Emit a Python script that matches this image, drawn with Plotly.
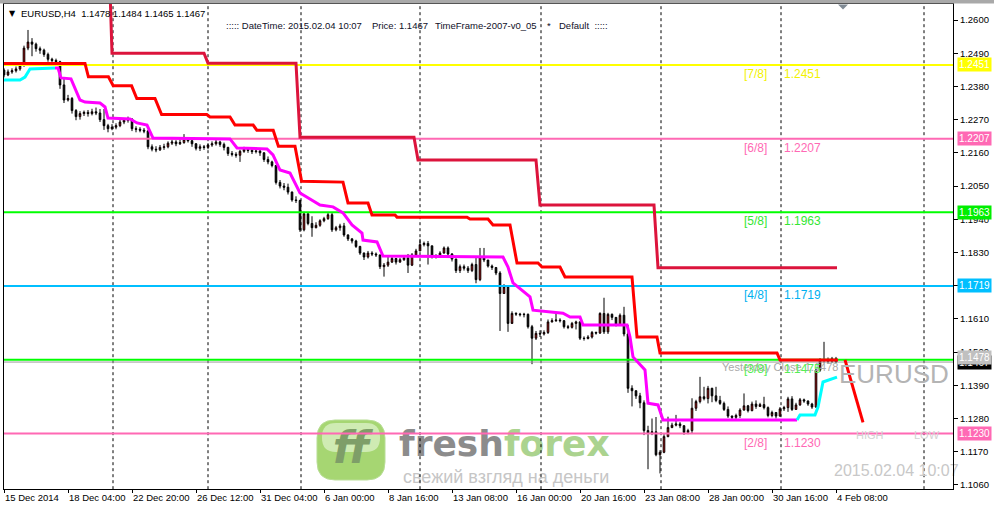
import plotly.graph_objects as go

# ---------------- data (H4 EURUSD) ----------------
FIRST_OPEN = 1.2434
CLOSE = [
    1.2418, 1.2428, 1.2432, 1.2438, 1.2450, 1.2507, 1.2527, 1.2520, 1.2505, 1.2500,
    1.2486, 1.2470, 1.2466, 1.2462, 1.2385, 1.2335, 1.2340, 1.2300, 1.2280, 1.2290,
    1.2294, 1.2290, 1.2296, 1.2292, 1.2270, 1.2250, 1.2240, 1.2245, 1.2250, 1.2262,
    1.2268, 1.2272, 1.2240, 1.2238, 1.2235, 1.2232, 1.2180, 1.2172, 1.2170, 1.2178,
    1.2180, 1.2192, 1.2196, 1.2190, 1.2194, 1.2205, 1.2200, 1.2190, 1.2175, 1.2180,
    1.2178, 1.2186, 1.2190, 1.2196, 1.2188, 1.2178, 1.2158, 1.2155, 1.2152, 1.2165,
    1.2172, 1.2168, 1.2164, 1.2166, 1.2160, 1.2138, 1.2130, 1.2118, 1.2062, 1.2050,
    1.2046, 1.2030, 1.2004, 1.2002, 1.1905, 1.1958, 1.1926, 1.1912, 1.1920, 1.1935,
    1.1942, 1.1955, 1.1905, 1.1912, 1.1918, 1.1888, 1.1875, 1.1868, 1.1850, 1.1828,
    1.1815, 1.1828, 1.1825, 1.1822, 1.1783, 1.1788, 1.1798, 1.1810, 1.1798, 1.1806,
    1.1812, 1.1788, 1.1822, 1.1835, 1.1856, 1.1860, 1.1852, 1.1815, 1.1818, 1.1828,
    1.1845, 1.1825, 1.1808, 1.1770, 1.1783, 1.1778, 1.1770, 1.1790, 1.1740, 1.1815,
    1.1805, 1.1785, 1.1780, 1.1762, 1.1694, 1.1716, 1.1595, 1.1628, 1.1626, 1.1624,
    1.1625, 1.1584, 1.1546, 1.1562, 1.1560, 1.1565, 1.1600, 1.1604, 1.1606, 1.1604,
    1.1584, 1.1582, 1.1595, 1.1600, 1.1546, 1.1545, 1.1550, 1.1565, 1.1563, 1.1628,
    1.1567, 1.1625, 1.1615, 1.1590, 1.1622, 1.1560, 1.1380, 1.1372, 1.1355, 1.1332,
    1.1240, 1.1232, 1.1236, 1.1160, 1.1168, 1.1220, 1.1250, 1.1258, 1.1262, 1.1256,
    1.1234, 1.1240, 1.1314, 1.1336, 1.1352, 1.1346, 1.1380, 1.1355, 1.1340, 1.1330,
    1.1310, 1.1288, 1.1284, 1.1290, 1.1308, 1.1322, 1.1306, 1.1328, 1.1320, 1.1326,
    1.1316, 1.1290, 1.1300, 1.1288, 1.1312, 1.1316, 1.1345, 1.1310, 1.1325, 1.1342,
    1.1338, 1.1328, 1.1318, 1.1440, 1.1472, 1.1475, 1.1470, 1.1478, 1.1467,
]
HIGH = [
    1.2440, 1.2436, 1.2440, 1.2446, 1.2458, 1.2515, 1.2567, 1.2540, 1.2525, 1.2512,
    1.2505, 1.2492, 1.2475, 1.2472, 1.2465, 1.2405, 1.2352, 1.2345, 1.2305, 1.2298,
    1.2300, 1.2302, 1.2306, 1.2310, 1.2305, 1.2305, 1.2256, 1.2255, 1.2258, 1.2270,
    1.2275, 1.2280, 1.2274, 1.2248, 1.2245, 1.2242, 1.2236, 1.2188, 1.2182, 1.2186,
    1.2190, 1.2198, 1.2204, 1.2202, 1.2206, 1.2222, 1.2212, 1.2206, 1.2192, 1.2188,
    1.2186, 1.2192, 1.2198, 1.2206, 1.2200, 1.2194, 1.2180, 1.2166, 1.2162, 1.2170,
    1.2180, 1.2178, 1.2174, 1.2178, 1.2172, 1.2162, 1.2148, 1.2134, 1.2120, 1.2070,
    1.2060, 1.2058, 1.2032, 1.2016, 1.2005, 1.1965, 1.1960, 1.1950, 1.1930, 1.1940,
    1.1948, 1.1962, 1.1962, 1.1918, 1.1925, 1.1928, 1.1890, 1.1878, 1.1872, 1.1852,
    1.1830, 1.1835, 1.1834, 1.1830, 1.1818, 1.1795, 1.1815, 1.1816, 1.1812, 1.1812,
    1.1818, 1.1825, 1.1828, 1.1842, 1.1875, 1.1866, 1.1868, 1.1852, 1.1824, 1.1834,
    1.1850, 1.1850, 1.1828, 1.1810, 1.1790, 1.1790, 1.1785, 1.1796, 1.1818, 1.1845,
    1.1845, 1.1800, 1.1790, 1.1782, 1.1768, 1.1725, 1.1720, 1.1635, 1.1632, 1.1630,
    1.1630, 1.1628, 1.1590, 1.1570, 1.1572, 1.1572, 1.1608, 1.1612, 1.1630, 1.1612,
    1.1606, 1.1590, 1.1600, 1.1604, 1.1602, 1.1552, 1.1556, 1.1570, 1.1568, 1.1632,
    1.1680, 1.1630, 1.1628, 1.1615, 1.1628, 1.1650, 1.1590, 1.1390, 1.1370, 1.1365,
    1.1340, 1.1256, 1.1280, 1.1285, 1.1175, 1.1228, 1.1286, 1.1266, 1.1292, 1.1268,
    1.1258, 1.1246, 1.1347, 1.1342, 1.1418, 1.1385, 1.1388, 1.1382, 1.1385, 1.1355,
    1.1336, 1.1320, 1.1290, 1.1296, 1.1314, 1.1363, 1.1325, 1.1336, 1.1340, 1.1332,
    1.1352, 1.1320, 1.1306, 1.1300, 1.1318, 1.1322, 1.1352, 1.1354, 1.1332, 1.1348,
    1.1346, 1.1340, 1.1332, 1.1445, 1.1480, 1.1534, 1.1482, 1.1484, 1.1484,
]
LOW = [
    1.2410, 1.2414, 1.2422, 1.2426, 1.2432, 1.2445, 1.2500, 1.2480, 1.2495, 1.2488,
    1.2478, 1.2462, 1.2455, 1.2452, 1.2372, 1.2325, 1.2330, 1.2290, 1.2268, 1.2270,
    1.2282, 1.2280, 1.2284, 1.2285, 1.2262, 1.2236, 1.2228, 1.2235, 1.2238, 1.2245,
    1.2255, 1.2260, 1.2232, 1.2228, 1.2228, 1.2225, 1.2172, 1.2165, 1.2162, 1.2166,
    1.2170, 1.2175, 1.2186, 1.2182, 1.2186, 1.2190, 1.2194, 1.2180, 1.2168, 1.2166,
    1.2170, 1.2172, 1.2180, 1.2184, 1.2180, 1.2168, 1.2150, 1.2148, 1.2144, 1.2130,
    1.2160, 1.2160, 1.2156, 1.2158, 1.2150, 1.2130, 1.2122, 1.2112, 1.2055, 1.2042,
    1.2036, 1.2022, 1.1998, 1.1994, 1.1898, 1.1900, 1.1920, 1.1882, 1.1910, 1.1915,
    1.1930, 1.1938, 1.1898, 1.1900, 1.1902, 1.1882, 1.1868, 1.1860, 1.1845, 1.1822,
    1.1805, 1.1810, 1.1818, 1.1815, 1.1775, 1.1750, 1.1782, 1.1795, 1.1790, 1.1796,
    1.1802, 1.1762, 1.1785, 1.1820, 1.1835, 1.1850, 1.1790, 1.1810, 1.1810, 1.1815,
    1.1826, 1.1820, 1.1800, 1.1762, 1.1762, 1.1770, 1.1762, 1.1765, 1.1728, 1.1735,
    1.1798, 1.1780, 1.1772, 1.1755, 1.1570, 1.1694, 1.1567, 1.1600, 1.1620, 1.1618,
    1.1615, 1.1578, 1.1460, 1.1540, 1.1550, 1.1555, 1.1560, 1.1598, 1.1600, 1.1598,
    1.1578, 1.1576, 1.1578, 1.1575, 1.1540, 1.1538, 1.1542, 1.1545, 1.1558, 1.1560,
    1.1560, 1.1560, 1.1606, 1.1585, 1.1590, 1.1552, 1.1365, 1.1320, 1.1345, 1.1314,
    1.1225, 1.1112, 1.1225, 1.1155, 1.1098, 1.1165, 1.1218, 1.1248, 1.1254, 1.1248,
    1.1226, 1.1228, 1.1232, 1.1305, 1.1330, 1.1340, 1.1330, 1.1334, 1.1334, 1.1325,
    1.1305, 1.1282, 1.1278, 1.1275, 1.1282, 1.1306, 1.1300, 1.1304, 1.1312, 1.1318,
    1.1310, 1.1284, 1.1284, 1.1280, 1.1286, 1.1305, 1.1302, 1.1305, 1.1310, 1.1322,
    1.1332, 1.1322, 1.1312, 1.1315, 1.1435, 1.1465, 1.1462, 1.1464, 1.1465,
]
assert len(CLOSE) == len(HIGH) == len(LOW)
OPEN = [FIRST_OPEN] + CLOSE[:-1]
BARS = list(range(len(CLOSE)))

TICK_LABELS = ["15 Dec 2014", "18 Dec 04:00", "22 Dec 20:00", "26 Dec 12:00", "31 Dec 04:00",
               "6 Jan 00:00", "8 Jan 16:00", "13 Jan 08:00", "16 Jan 00:00", "20 Jan 16:00",
               "23 Jan 08:00", "28 Jan 00:00", "30 Jan 16:00", "4 Feb 08:00"]
TICK_BARS = [0, 16, 32, 48, 64, 80, 96, 112, 128, 144, 160, 176, 192, 208]
SEPARATORS = [27.25, 51, 74.25, 104, 134.25, 164.25, 194.25, 230]

PRICE_TICKS = [1.2600, 1.2490, 1.2380, 1.2270, 1.2160, 1.2050, 1.1940, 1.1830,
               1.1720, 1.1610, 1.1500, 1.1390, 1.1280, 1.1170, 1.1060]

MURREY_LEVELS = [1.2451, 1.2207, 1.1963, 1.1719, 1.1475, 1.1230]
MURREY_NAMES = ["[7/8]", "[6/8]", "[5/8]", "[4/8]", "[3/8]", "[2/8]"]
MURREY_COLORS = ["#FFFF00", "#FF69B4", "#00FF00", "#00BFFF", "#00FF00", "#FF69B4"]
MURREY_TEXT = ["#F2F200", "#FF69B4", "#33E633", "#00B0F0", "#55EE55", "#FF69B4"]
AXIS_BOX_LEVELS = [1.2451, 1.2207, 1.1963, 1.1719, 1.1230]
AXIS_BOX_COLORS = ["#FFFF00", "#FF69B4", "#00EE00", "#00BFFF", "#FF69B4"]
YESTERDAY_CLOSE = 1.1478
BID = CLOSE[-1]

RED_X = [-0.5, 20.25, 21.1, 26.1, 27.3, 31.9, 33.2, 37.75, 39.4, 50.7, 51.5, 56.5, 57.75, 62.3,
         63.2, 67.3, 68.6, 72.75, 74.4, 84.75, 86, 91, 92, 97.75, 98.25, 115.75, 116.5, 121,
         122.25, 126.5, 128.25, 133.5, 134.5, 139, 140.25, 157, 158.25, 163.25, 164, 193.25,
         194, 208.5]
RED_Y = [1.2456, 1.2456, 1.2412, 1.2412, 1.2382, 1.2382, 1.2340, 1.2340, 1.2287, 1.2287,
         1.2279, 1.2279, 1.2252, 1.2252, 1.2235, 1.2235, 1.2182, 1.2182, 1.2066, 1.2063,
         1.1994, 1.1994, 1.1954, 1.1954, 1.1947, 1.1947, 1.1941, 1.1941, 1.1921, 1.1921,
         1.1795, 1.1795, 1.1782, 1.1782, 1.1749, 1.1749, 1.1550, 1.1550, 1.1497, 1.1497,
         1.1474, 1.1474]
CRIM_X = [26.5, 27, 50, 51, 73, 74, 102.5, 103.5, 133, 134, 162.5, 163.5, 208.25]
CRIM_Y = [1.2700, 1.2490, 1.2490, 1.2457, 1.2457, 1.2212, 1.2212, 1.2136, 1.2136,
          1.1987, 1.1987, 1.1779, 1.1779]
CYAN_A_X = [-0.5, 4, 5.25, 6.5, 12.75]
CYAN_A_Y = [1.2401, 1.2401, 1.2411, 1.2438, 1.2441]
MAG_X = [12.75, 13.5, 14.25, 16.75, 19, 20.25, 24, 25.25, 26, 31.5, 33.25, 35.75, 37.25, 56.5,
         58.25, 65.75, 67.25, 69, 71.5, 74, 79, 82.25, 84.75, 87, 89.5, 89.75, 93.25, 94.75,
         124.75, 126, 127.25, 131.5, 132.25, 139.75, 141.5, 144, 144.75, 155.75, 156.5,
         157.25, 160.25, 161, 163.5, 164.75, 198.25]
MAG_Y = [1.2441, 1.2441, 1.2408, 1.2405, 1.2335, 1.2328, 1.2325, 1.2312, 1.2275, 1.2272,
         1.2259, 1.2252, 1.2209, 1.2206, 1.2176, 1.2173, 1.2153, 1.2103, 1.2093, 1.2027,
         1.1987, 1.1981, 1.1961, 1.1921, 1.1894, 1.1871, 1.1865, 1.1818, 1.1815, 1.1782,
         1.1729, 1.1683, 1.1639, 1.1629, 1.1616, 1.1616, 1.1590, 1.1590, 1.1550, 1.1484,
         1.1441, 1.1331, 1.1325, 1.1275, 1.1275]
CYAN_B_X = [198.25, 199, 202.75, 203.5, 204.75, 206.5, 208.25]
CYAN_B_Y = [1.1275, 1.1292, 1.1292, 1.1318, 1.1401, 1.1408, 1.1417]
ARROW_X = [210.25, 214.75]
ARROW_Y = [1.1474, 1.1267]

# ---------------- geometry helpers ----------------
W, H = 994, 506
L_PX, R_PX, T_PX, B_PX = 4, 953, 4, 489
BAR_PX = 4.0
PX_PER_UNIT = 3019.0
Y_AT_PX0 = 1.266625
X_RANGE = [0, (R_PX - L_PX) / BAR_PX]
Y_RANGE = [Y_AT_PX0 - B_PX / PX_PER_UNIT, Y_AT_PX0 - T_PX / PX_PER_UNIT]


def dx(px):
    return (px - L_PX) / BAR_PX


def dy(py):
    return Y_AT_PX0 - py / PX_PER_UNIT


def paper_x(px):
    return (px - L_PX) / (R_PX - L_PX)


def paper_y(py):
    return (B_PX - py) / (B_PX - T_PX)


def rounded_rect(x0, y0, x1, y1, r):
    def P(x, y):
        return f"{paper_x(x):.5f},{paper_y(y):.5f}"
    return (f"M {P(x0 + r, y0)} L {P(x1 - r, y0)} Q {P(x1, y0)} {P(x1, y0 + r)} "
            f"L {P(x1, y1 - r)} Q {P(x1, y1)} {P(x1 - r, y1)} L {P(x0 + r, y1)} "
            f"Q {P(x0, y1)} {P(x0, y1 - r)} L {P(x0, y0 + r)} Q {P(x0, y0)} {P(x0 + r, y0)} Z")


fig = go.Figure()

# ---------------- watermark (background) ----------------
fig.add_trace(go.Scatter(x=[dx(351)], y=[dy(452)], mode="text", text=["<b><i>ff</i></b>"],
                         textposition="middle center", cliponaxis=False, hoverinfo="skip",
                         textfont=dict(family="DejaVu Sans", size=44, color="#7E9E68")))
fig.add_trace(go.Scatter(x=[dx(399)], y=[dy(447)], mode="text",
                         text=["<b><span style='color:#8C8C8C'>fresh</span>"
                               "<span style='color:#ABD38F'>forex</span></b>"],
                         textposition="middle right", cliponaxis=False, hoverinfo="skip",
                         textfont=dict(family="DejaVu Sans", size=36, color="#8C8C8C")))
fig.add_trace(go.Scatter(x=[dx(403)], y=[dy(478)], mode="text", text=["свежий взгляд на деньги"],
                         textposition="middle right", cliponaxis=False, hoverinfo="skip",
                         textfont=dict(family="Liberation Sans", size=18, color="#C6C6C6")))

# ---------------- period separators ----------------
sx, sy = [], []
for b in SEPARATORS:
    sx += [b, b, None]
    sy += [Y_RANGE[0] - 0.01, Y_RANGE[1] + 0.01, None]
fig.add_trace(go.Scatter(x=sx, y=sy, mode="lines", hoverinfo="skip",
                         line=dict(color="black", width=1, dash="3px,3px")))

# ---------------- candles ----------------
fig.add_trace(go.Candlestick(
    x=BARS, open=OPEN, high=HIGH, low=LOW, close=CLOSE, whiskerwidth=0, hoverinfo="skip",
    increasing=dict(line=dict(color="black", width=1), fillcolor="#FF0000"),
    decreasing=dict(line=dict(color="black", width=1), fillcolor="#000000")))

# ---------------- horizontal lines ----------------
fig.add_trace(go.Scatter(x=[X_RANGE[0] - 5, X_RANGE[1] + 5], y=[BID, BID], mode="lines",
                         hoverinfo="skip", line=dict(color="#9A9A9A", width=1)))
for lv, col in zip(MURREY_LEVELS, MURREY_COLORS):
    fig.add_trace(go.Scatter(x=[X_RANGE[0] - 5, X_RANGE[1] + 5], y=[lv, lv], mode="lines",
                             hoverinfo="skip", line=dict(color=col, width=2)))

# ---------------- indicator lines ----------------
for xs, ys, col in [(CYAN_A_X, CYAN_A_Y, "#00FFFF"), (MAG_X, MAG_Y, "#FF00FF"),
                    (CYAN_B_X, CYAN_B_Y, "#00FFFF"), (RED_X, RED_Y, "#FF0000"),
                    (CRIM_X, CRIM_Y, "#DC143C"), (ARROW_X, ARROW_Y, "#FF0000")]:
    fig.add_trace(go.Scatter(x=xs, y=ys, mode="lines", hoverinfo="skip",
                             line=dict(color=col, width=3)))

# date stamp
fig.add_trace(go.Scatter(x=[dx(834)], y=[dy(472)], mode="text", text=["2015.02.04 10:07"],
                         textposition="middle right", cliponaxis=False, hoverinfo="skip",
                         textfont=dict(family="Liberation Sans", size=16, color="#C8C8C8")))

# ---------------- annotations ----------------
ann = []
FONT = "Liberation Sans"
ann.append(dict(x=paper_x(720), xref="paper", y=YESTERDAY_CLOSE, yref="y", yshift=-8,
                text="Yesterday Close 1.1478", showarrow=False, xanchor="left", yanchor="middle",
                font=dict(family=FONT, size=11, color="#A8A8A8")))
for lv, name, tc in zip(MURREY_LEVELS, MURREY_NAMES, MURREY_TEXT):
    ann.append(dict(x=paper_x(742), xref="paper", y=lv, yref="y", yshift=-9, text=name,
                    showarrow=False, xanchor="left", yanchor="middle",
                    font=dict(family=FONT, size=12, color=tc)))
    ann.append(dict(x=paper_x(782), xref="paper", y=lv, yref="y", yshift=-9, text=f"{lv:.4f}",
                    showarrow=False, xanchor="left", yanchor="middle",
                    font=dict(family=FONT, size=12, color=tc)))
ann.append(dict(x=paper_x(837), xref="paper", y=dy(374), yref="y", text="EURUSD",
                showarrow=False, xanchor="left", yanchor="middle",
                font=dict(family=FONT, size=26, color="#B4B4B4")))
ann.append(dict(x=paper_x(854), xref="paper", y=dy(435), yref="y", text="HIGH",
                showarrow=False, xanchor="left", yanchor="middle",
                font=dict(family=FONT, size=11, color="#D2D2D2")))
ann.append(dict(x=paper_x(912), xref="paper", y=dy(435), yref="y", text="LOW",
                showarrow=False, xanchor="left", yanchor="middle",
                font=dict(family=FONT, size=11, color="#D2D2D2")))

# header
ann.append(dict(x=paper_x(7), xref="paper", y=paper_y(13), yref="paper", text="▼",
                showarrow=False, xanchor="left", yanchor="middle",
                font=dict(family="DejaVu Sans", size=8, color="black")))
ann.append(dict(x=paper_x(19), xref="paper", y=paper_y(13), yref="paper",
                text="EURUSD,H4  1.1478 1.1484 1.1465 1.1467",
                showarrow=False, xanchor="left", yanchor="middle",
                font=dict(family=FONT, size=9.5, color="black")))
for px, txt in [(224, "::::: DateTime: 2015.02.04 10:07"), (370, "Price: 1.1467"),
                (433, "TimeFrame-2007-v0_05"), (545, "*"), (557, "Default  :::::")]:
    ann.append(dict(x=paper_x(px), xref="paper", y=paper_y(26), yref="paper", text=txt,
                    showarrow=False, xanchor="left", yanchor="middle",
                    font=dict(family=FONT, size=9.5, color="#101028")))

# right axis price boxes
BOX_X = paper_x(957)
ann.append(dict(x=BOX_X, xref="paper", y=BID, yref="y", text=f"{BID:.4f}", showarrow=False,
                xanchor="left", yanchor="middle", bgcolor="#000000", borderpad=1,
                font=dict(family=FONT, size=10, color="white")))
ann.append(dict(x=BOX_X, xref="paper", y=YESTERDAY_CLOSE, yref="y", yshift=1,
                text=f"{YESTERDAY_CLOSE:.4f}", showarrow=False,
                xanchor="left", yanchor="middle", bgcolor="#C0C0C0", borderpad=1,
                font=dict(family=FONT, size=10, color="white")))
for lv, col in zip(AXIS_BOX_LEVELS, AXIS_BOX_COLORS):
    ann.append(dict(x=BOX_X, xref="paper", y=lv, yref="y", text=f"{lv:.4f}", showarrow=False,
                    xanchor="left", yanchor="middle", bgcolor=col, borderpad=1,
                    font=dict(family=FONT, size=10, color="white")))

# ---------------- shapes ----------------
shapes = [
    dict(type="rect", xref="paper", yref="paper", x0=paper_x(-5), x1=paper_x(1000),
         y0=paper_y(3.5), y1=paper_y(-2), fillcolor="#A9A9A9", line=dict(width=0), layer="above"),
    dict(type="path", xref="paper", yref="paper", layer="above",
         path=f"M {paper_x(838):.5f},{paper_y(4.5):.5f} L {paper_x(848):.5f},{paper_y(4.5):.5f} "
              f"L {paper_x(843):.5f},{paper_y(9.5):.5f} Z",
         fillcolor="#808A94", line=dict(width=0)),
    dict(type="path", xref="paper", yref="paper", layer="below",
         path=rounded_rect(317, 420, 385, 480, 18), fillcolor="#A6D672",
         line=dict(color="#B9DE97", width=1)),
    dict(type="path", xref="paper", yref="paper", layer="below",
         path=rounded_rect(322, 423, 380, 452, 14), fillcolor="#D6EEBE",
         line=dict(width=0), opacity=0.85),
]

fig.update_layout(
    width=W, height=H, autosize=False,
    margin=dict(l=L_PX, r=W - R_PX, t=T_PX, b=H - B_PX, autoexpand=False),
    paper_bgcolor="white", plot_bgcolor="white",
    showlegend=False, hovermode=False, boxgap=0.42,
    annotations=ann, shapes=shapes,
    xaxis=dict(range=X_RANGE, tickvals=TICK_BARS, ticktext=TICK_LABELS, ticks="outside",
               ticklen=3, tickcolor="black", ticklabelposition="outside right", tickangle=0,
               automargin=False,
               tickfont=dict(family=FONT, size=9.5, color="black"),
               showgrid=False, zeroline=False, showline=True, linecolor="black", linewidth=1,
               mirror=True, rangeslider=dict(visible=False), fixedrange=True),
    yaxis=dict(range=Y_RANGE, side="right", tickvals=PRICE_TICKS, automargin=False,
               ticktext=[f"{v:.4f}" for v in PRICE_TICKS], ticks="outside", ticklen=4,
               tickcolor="black", tickfont=dict(family=FONT, size=9.5, color="black"),
               showgrid=False, zeroline=False, showline=True, linecolor="black", linewidth=1,
               mirror=True, fixedrange=True),
)

fig.write_html("out.html", config={"displayModeBar": False},
               post_script="document.body.style.margin='0';")
